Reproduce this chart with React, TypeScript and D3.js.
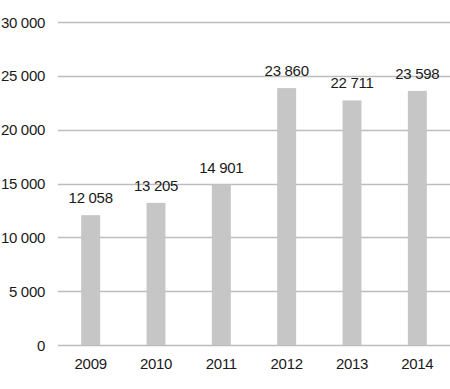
import { useEffect, useRef } from 'react';
import * as d3 from 'd3';

const years = ['2009', '2010', '2011', '2012', '2013', '2014'];
const values = [12058, 13205, 14901, 23860, 22711, 23598];
const yTicks = [0, 5000, 10000, 15000, 20000, 25000, 30000];

const fmt = (v: number) => d3.format(',')(v).replace(/,/g, ' ');

export default function App() {
  const svgRef = useRef<SVGSVGElement>(null);

  const width = 450;
  const height = 389;
  const left = 58;
  const top = 22;
  const bottom = 345;

  useEffect(() => {
    const svg = d3.select(svgRef.current);
    svg.selectAll('*').remove();

    const x = d3.scaleBand<string>()
      .domain(years)
      .range([left, width])
      .paddingInner(0.71)
      .paddingOuter(0.355);

    const y = d3.scaleLinear()
      .domain([0, 30000])
      .range([bottom, top]);

    const font = 'Liberation Sans, Arial, sans-serif';
    const size = '15px';
    const spacing = '-0.3px';

    // linhas de grade horizontais
    svg.append('g')
      .selectAll('line')
      .data(yTicks)
      .enter()
      .append('line')
      .attr('x1', left)
      .attr('x2', width)
      .attr('y1', d => Math.round(y(d)) + 0.5)
      .attr('y2', d => Math.round(y(d)) + 0.5)
      .style('stroke', '#bdbdbd')
      .style('stroke-width', 1.3);

    // rótulos do eixo y
    svg.append('g')
      .selectAll('text')
      .data(yTicks)
      .enter()
      .append('text')
      .attr('x', 45)
      .attr('y', d => y(d) + 5.5)
      .attr('text-anchor', 'end')
      .style('font-family', font)
      .style('font-size', size)
      .style('letter-spacing', spacing)
      .style('fill', '#1a1a1a')
      .text(d => fmt(d));

    // barras
    svg.append('g')
      .selectAll('rect')
      .data(values)
      .enter()
      .append('rect')
      .attr('x', (d, i) => x(years[i])!)
      .attr('y', d => y(d))
      .attr('width', x.bandwidth())
      .attr('height', d => bottom - y(d))
      .style('fill', '#c6c6c6');

    // rótulos de valores
    svg.append('g')
      .selectAll('text')
      .data(values)
      .enter()
      .append('text')
      .attr('x', (d, i) => x(years[i])! + x.bandwidth() / 2)
      .attr('y', d => y(d) - 12)
      .attr('text-anchor', 'middle')
      .style('font-family', font)
      .style('font-size', size)
      .style('letter-spacing', spacing)
      .style('fill', '#1a1a1a')
      .text(d => fmt(d));

    // rótulos do eixo x
    svg.append('g')
      .selectAll('text')
      .data(years)
      .enter()
      .append('text')
      .attr('x', d => x(d)! + x.bandwidth() / 2)
      .attr('y', 369)
      .attr('text-anchor', 'middle')
      .style('font-family', font)
      .style('font-size', size)
      .style('letter-spacing', spacing)
      .style('fill', '#1a1a1a')
      .text(d => d);
  }, []);

  return (
    <svg
      ref={svgRef}
      width={width}
      height={height}
      style={{ position: 'absolute', top: 0, left: 0, background: '#fff' }}
    />
  );
}
